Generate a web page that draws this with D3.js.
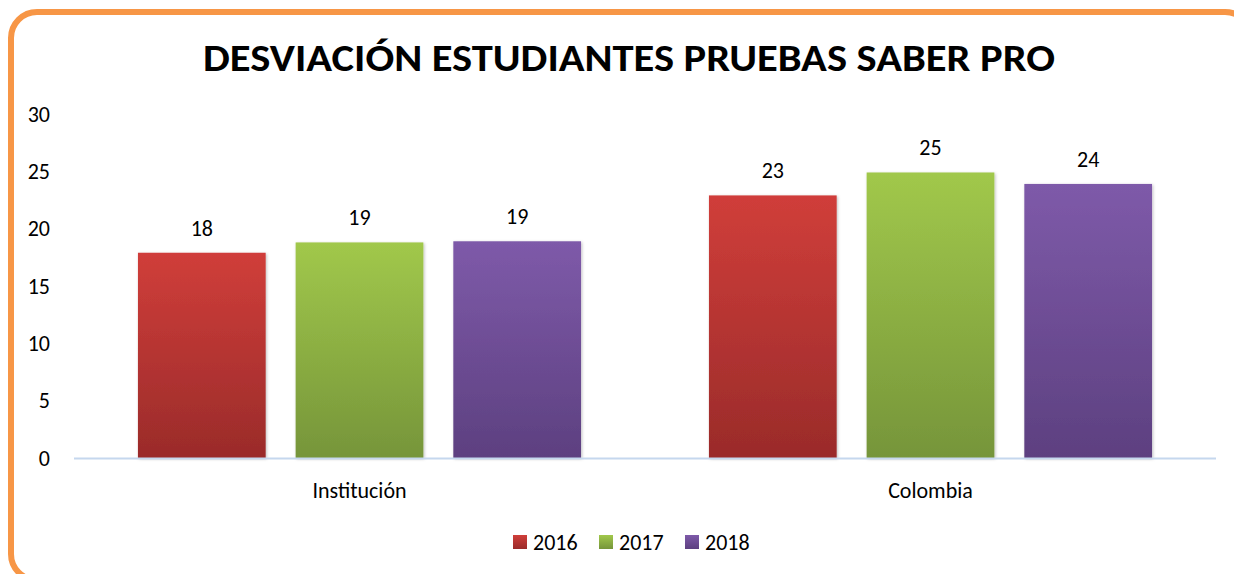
<!DOCTYPE html>
<html>
<head>
<meta charset="utf-8">
<script src="https://cdn.jsdelivr.net/npm/d3@7"></script>
<style>
  body { margin: 0; background: #fff; }
  text { font-family: Carlito, Lato, "Open Sans", sans-serif; fill: #000; }
</style>
</head>
<body>
<svg id="chart" width="1234" height="574"></svg>
<script>
// data
const categories = ['Institución', 'Colombia'];
const series = ['2016', '2017', '2018'];
const values2016 = [17.9, 22.9];
const values2017 = [18.8, 24.9];
const values2018 = [18.9, 23.9];
const yTicks = [0, 5, 10, 15, 20, 25, 30];
const title = 'DESVIACIÓN ESTUDIANTES PRUEBAS SABER PRO';

const valuesBySeries = { '2016': values2016, '2017': values2017, '2018': values2018 };
const colors = {
  '2016': ['#d03e3a', '#9a2b2a'],
  '2017': ['#a1c84b', '#76953a'],
  '2018': ['#7e5aa9', '#5d4080'],
};
const fontSize = 22;

const svg = d3.select('#chart');

// frame
svg.append('rect')
  .attr('x', 11).attr('y', 12)
  .attr('width', 1240).attr('height', 568)
  .attr('rx', 26)
  .attr('fill', '#fff')
  .attr('stroke', '#f79646')
  .attr('stroke-width', 6);

const defs = svg.append('defs');
series.forEach((s) => {
  const g = defs.append('linearGradient')
    .attr('id', 'grad' + s)
    .attr('x1', 0).attr('y1', 0).attr('x2', 0).attr('y2', 1);
  g.append('stop').attr('offset', '0%').attr('stop-color', colors[s][0]);
  g.append('stop').attr('offset', '100%').attr('stop-color', colors[s][1]);
});
const shadow = defs.append('filter').attr('id', 'shadow')
  .attr('x', '-10%').attr('y', '-10%').attr('width', '130%').attr('height', '130%');
shadow.append('feDropShadow')
  .attr('dx', 1).attr('dy', 1).attr('stdDeviation', 1.5)
  .attr('flood-color', '#000').attr('flood-opacity', 0.25);

// title
svg.append('text')
  .attr('x', 629).attr('y', 71)
  .attr('text-anchor', 'middle')
  .attr('font-size', 38)
  .attr('font-weight', 700)
  .attr('textLength', 852)
  .attr('lengthAdjust', 'spacingAndGlyphs')
  .text(title);

// scales
const x0 = d3.scaleBand()
  .domain(categories)
  .range([74, 1216])
  .paddingInner(0.224)
  .paddingOuter(0.112);
const x1 = d3.scaleBand()
  .domain(series)
  .range([0, x0.bandwidth()])
  .paddingInner(0.19);
const y = d3.scaleLinear().domain([0, 30]).range([458, 114]);

// y axis labels
svg.append('g')
  .selectAll('text')
  .data(yTicks)
  .join('text')
  .attr('x', 50)
  .attr('y', (d) => y(d))
  .attr('dy', '0.35em')
  .attr('text-anchor', 'end')
  .attr('font-size', fontSize)
  .text((d) => d);

// bars
const groups = svg.append('g')
  .selectAll('g')
  .data(categories)
  .join('g')
  .attr('transform', (c) => `translate(${x0(c)},0)`);

groups.selectAll('rect')
  .data((c, i) => series.map((s) => ({ s, v: valuesBySeries[s][i] })))
  .join('rect')
  .attr('x', (d) => x1(d.s))
  .attr('y', (d) => y(d.v))
  .attr('width', x1.bandwidth())
  .attr('height', (d) => y(0) - y(d.v))
  .attr('fill', (d) => `url(#grad${d.s})`)
  .attr('filter', 'url(#shadow)');

groups.selectAll('text')
  .data((c, i) => series.map((s) => ({ s, v: valuesBySeries[s][i] })))
  .join('text')
  .attr('x', (d) => x1(d.s) + x1.bandwidth() / 2)
  .attr('y', (d) => y(d.v) - 17)
  .attr('text-anchor', 'middle')
  .attr('font-size', fontSize)
  .text((d) => d3.format('.0f')(d.v));

// baseline
svg.append('line')
  .attr('x1', 74).attr('x2', 1216)
  .attr('y1', y(0) + 0.5).attr('y2', y(0) + 0.5)
  .attr('stroke', '#c5d7ee')
  .attr('stroke-width', 2);

// category labels
svg.append('g')
  .selectAll('text')
  .data(categories)
  .join('text')
  .attr('x', (c) => x0(c) + x0.bandwidth() / 2)
  .attr('y', 498)
  .attr('text-anchor', 'middle')
  .attr('font-size', fontSize)
  .text((c) => c);

// legend
const legendX = [513, 599, 685];
const legend = svg.append('g')
  .selectAll('g')
  .data(series)
  .join('g')
  .attr('transform', (s, i) => `translate(${legendX[i]},535)`);
legend.append('rect')
  .attr('width', 14).attr('height', 14)
  .attr('fill', (s) => `url(#grad${s})`);
legend.append('text')
  .attr('x', 20).attr('y', 15)
  .attr('font-size', fontSize)
  .text((s) => s);
</script>
</body>
</html>
